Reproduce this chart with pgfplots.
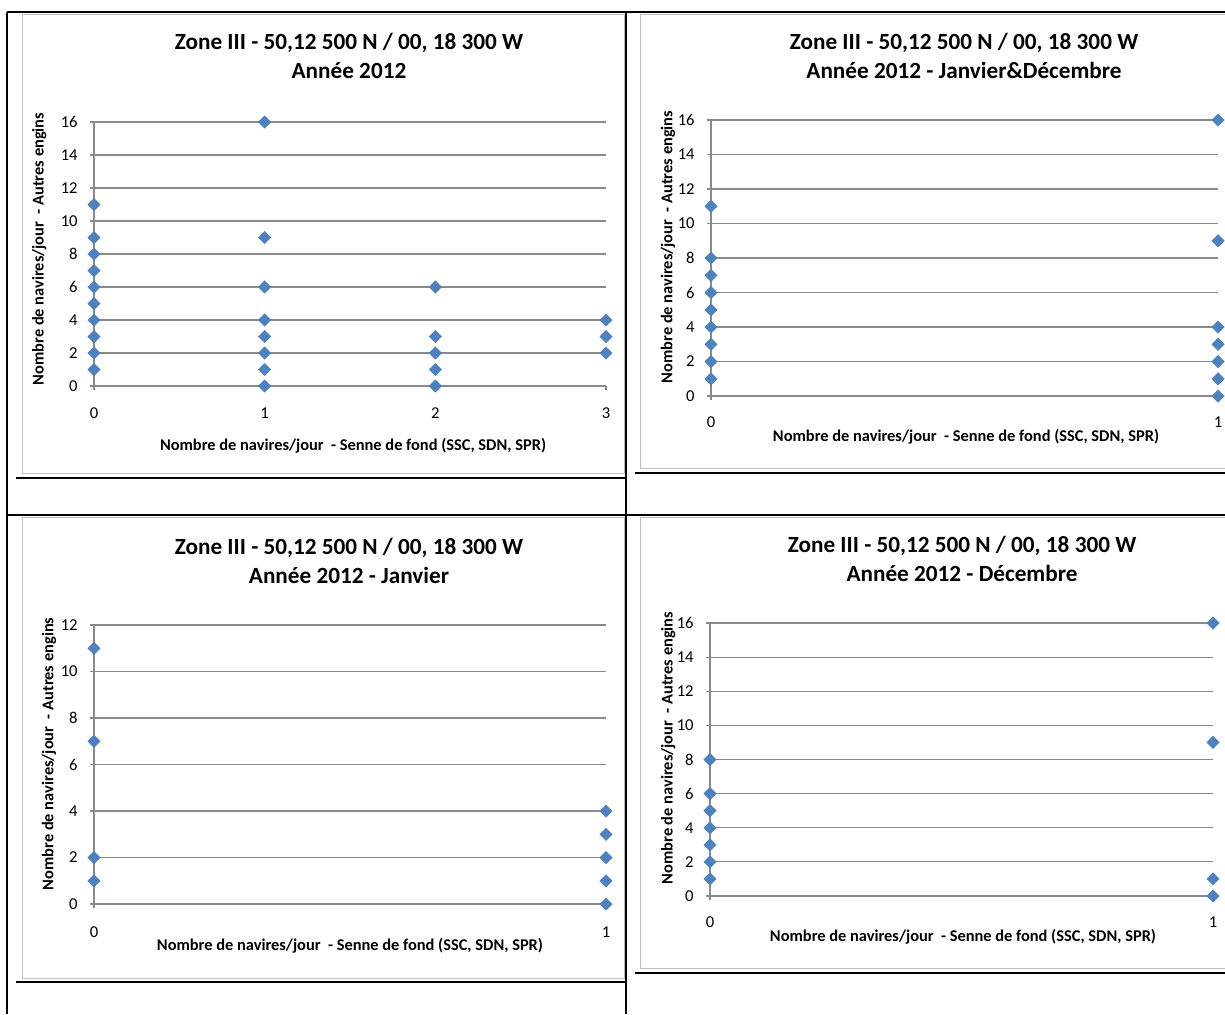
\documentclass[border=0pt]{standalone}
\usepackage{pgfplots}
\pgfplotsset{compat=1.18}
\usepackage{fontspec}
\setmainfont{Carlito}
\definecolor{xlblue}{RGB}{79,129,189}
\definecolor{gridgray}{RGB}{138,138,138}
\definecolor{framegray}{RGB}{190,190,190}
\pgfplotsset{
  xlmark/.style={only marks, mark=square*, mark size=2.2pt,
      mark options={rotate=45, fill=xlblue, draw=xlblue, line width=0.2pt}},
  xlstyle/.style={
    scale only axis,
    anchor=south west,
    clip=false,
    axis x line*=bottom,
    axis y line*=left,
    axis line style={-, draw=gridgray, line width=0.75pt},
    ymajorgrids,
    grid style={draw=gridgray, line width=0.55pt},
    tick align=outside,
    major tick length=2pt,
    tick style={draw=gridgray, line width=0.6pt},
    /pgf/number format/assume math mode=true,
    tick label style={font=\fontsize{8.3}{9}\selectfont},
    xticklabel style={anchor=center, yshift=-11.5pt},
    yticklabel style={anchor=east, inner sep=0pt, xshift=-6pt},
    every axis title shift=0pt,
    title style={anchor=center, align=center, font=\bfseries\fontsize{11.6}{14.5}\selectfont},
    xlabel style={anchor=center, font=\bfseries\fontsize{8.2}{9}\selectfont},
    ylabel style={anchor=center, font=\bfseries\fontsize{8.2}{9}\selectfont},
    ymin=0,
    xmin=0,
    ytick distance=2,
    xtick distance=1,
  }
}
\begin{document}
\begin{tikzpicture}
\path[use as bounding box] (0pt,0pt) rectangle (612.5pt,-507pt);
% table lines
\begin{scope}[line width=1pt, black]
\draw (3.5pt,-6pt) -- (612.5pt,-6pt);
\draw (3.5pt,-6pt) -- (3.5pt,-507pt);
\draw (313pt,-6pt) -- (313pt,-507pt);
\draw (3.5pt,-257.5pt) -- (612.5pt,-257.5pt);
\draw (8pt,-239pt) -- (313pt,-239pt);
\draw (317.5pt,-236.5pt) -- (612.5pt,-236.5pt);
\draw (8pt,-491pt) -- (313pt,-491pt);
\draw (317.5pt,-486.5pt) -- (612.5pt,-486.5pt);
\end{scope}
% chart frames
\begin{scope}[line width=0.5pt, framegray]
\draw (11pt,-7pt) rectangle (312pt,-236.5pt);
\draw (614pt,-7pt) -- (320pt,-7pt) -- (320pt,-234pt) -- (614pt,-234pt);
\draw (11pt,-258.8pt) rectangle (312pt,-489pt);
\draw (614pt,-258.8pt) -- (320pt,-258.8pt) -- (320pt,-484pt) -- (614pt,-484pt);
\end{scope}

% Panel 1
\begin{axis}[xlstyle,
  at={(47pt,-193pt)}, width=256pt, height=132pt,
  xmax=3, ymax=16,
  title={Zone III - 50,12 500 N / 00, 18 300 W\\Année 2012},
  title style={at={(axis description cs:0.498,1.25)}},
  xlabel={Nombre de navires/jour~ - Senne de fond (SSC, SDN, SPR)},
  xlabel style={at={(axis description cs:0.506,-0.227)}},
  ylabel={Nombre de navires/jour~ - Autres engins},
  ylabel style={at={(axis description cs:-0.107,0.519)}},
]
\addplot[xlmark] coordinates {
 (0,11) (0,9) (0,8) (0,7) (0,6) (0,5) (0,4) (0,3) (0,2) (0,1)
 (1,16) (1,9) (1,6) (1,4) (1,3) (1,2) (1,1) (1,0)
 (2,6) (2,3) (2,2) (2,1) (2,0)
 (3,4) (3,3) (3,2)
};
\end{axis}

% Panel 2
\begin{axis}[xlstyle,
  at={(355.5pt,-198pt)}, width=253.5pt, height=138pt,
  xmax=1, ymax=16,
  title={Zone III - 50,12 500 N / 00, 18 300 W\\Année 2012 - Janvier\&Décembre},
  title style={at={(axis description cs:0.499,1.232)}},
  xlabel={Nombre de navires/jour~ - Senne de fond (SSC, SDN, SPR)},
  xlabel style={at={(axis description cs:0.503,-0.149)}},
  ylabel={Nombre de navires/jour~ - Autres engins},
  ylabel style={at={(axis description cs:-0.085,0.54)}},
  xticklabel style={yshift=0.5pt},
]
\addplot[xlmark] coordinates {
 (0,11) (0,8) (0,7) (0,6) (0,5) (0,4) (0,3) (0,2) (0,1)
 (1,16) (1,9) (1,4) (1,3) (1,2) (1,1) (1,0)
};
\end{axis}

% Panel 3
\begin{axis}[xlstyle,
  at={(47pt,-452pt)}, width=256pt, height=139.5pt,
  xmax=1, ymax=12,
  title={Zone III - 50,12 500 N / 00, 18 300 W\\Année 2012 - Janvier},
  title style={at={(axis description cs:0.498,1.229)}},
  xlabel={Nombre de navires/jour~ - Senne de fond (SSC, SDN, SPR)},
  xlabel style={at={(axis description cs:0.500,-0.151)}},
  ylabel={Nombre de navires/jour~ - Autres engins},
  ylabel style={at={(axis description cs:-0.088,0.538)}},
  xticklabel style={yshift=-0.5pt},
]
\addplot[xlmark] coordinates {
 (0,11) (0,7) (0,2) (0,1)
 (1,4) (1,3) (1,2) (1,1) (1,0)
};
\end{axis}

% Panel 4
\begin{axis}[xlstyle,
  at={(355pt,-448pt)}, width=251.5pt, height=136.5pt,
  xmax=1, ymax=16,
  title={Zone III - 50,12 500 N / 00, 18 300 W\\Année 2012 - Décembre},
  title style={at={(axis description cs:0.501,1.234)}},
  xlabel={Nombre de navires/jour~ - Senne de fond (SSC, SDN, SPR)},
  xlabel style={at={(axis description cs:0.503,-0.150)}},
  ylabel={Nombre de navires/jour~ - Autres engins},
  ylabel style={at={(axis description cs:-0.083,0.542)}},
  xticklabel style={yshift=0.5pt},
]
\addplot[xlmark] coordinates {
 (0,8) (0,6) (0,5) (0,4) (0,3) (0,2) (0,1)
 (1,16) (1,9) (1,1) (1,0)
};
\end{axis}
\end{tikzpicture}
\end{document}
